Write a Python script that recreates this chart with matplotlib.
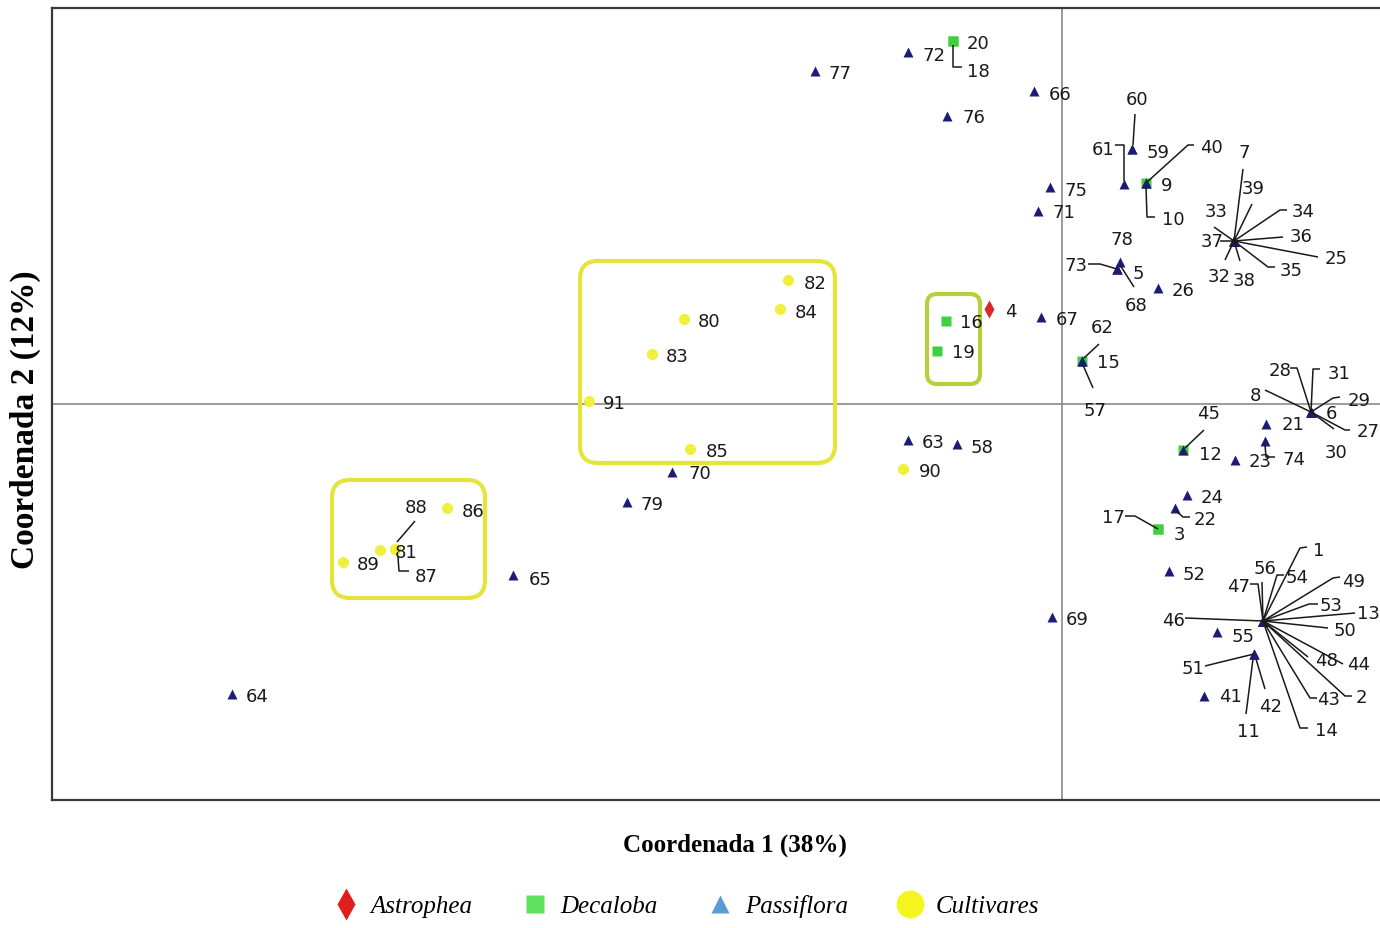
import matplotlib.pyplot as plt
from matplotlib.lines import Line2D
from matplotlib.patches import FancyBboxPatch

# --- coordinates of the accessions (PCoA axes 1 and 2) ---
astro_id = [4]
astro_x = [-0.073]
astro_y = [0.095]

deca_id = [3, 9, 12, 15, 16, 17, 18, 19, 20]
deca_x = [0.096, 0.084, 0.121, 0.020, -0.116, 0.096, -0.109, -0.125, -0.109]
deca_y = [-0.125, 0.221, -0.046, 0.043, 0.083, -0.125, 0.363, 0.053, 0.363]

passi_id = [1, 2, 5, 6, 7, 8, 10, 11, 13, 14,
            21, 22, 23, 24, 25, 26, 27, 28, 29, 30,
            31, 32, 33, 34, 35, 36, 37, 38, 39, 40,
            41, 42, 43, 44, 45, 46, 47, 48, 49, 50,
            51, 52, 53, 54, 55, 56, 57, 58, 59, 60,
            61, 62, 63, 64, 65, 66, 67, 68, 69, 70,
            71, 72, 73, 74, 75, 76, 77, 78, 79]
passi_x = [0.201, 0.201, 0.055, 0.249, 0.172, 0.249, 0.084, 0.192, 0.201, 0.201,
           0.204, 0.113, 0.173, 0.125, 0.172, 0.096, 0.249, 0.249, 0.249, 0.249,
           0.249, 0.172, 0.172, 0.172, 0.172, 0.172, 0.172, 0.172, 0.172, 0.084,
           0.142, 0.192, 0.201, 0.201, 0.121, 0.201, 0.201, 0.201, 0.201, 0.201,
           0.192, 0.107, 0.201, 0.201, 0.155, 0.201, 0.020, -0.105, 0.070, 0.070,
           0.062, 0.020, -0.154, -0.830, -0.549, -0.028, -0.021, 0.055, -0.010, -0.390,
           -0.024, -0.154, 0.055, 0.203, -0.012, -0.115, -0.247, 0.058, -0.435]
passi_y = [-0.217, -0.217, 0.135, -0.008, 0.163, -0.008, 0.221, -0.250, -0.217, -0.217,
           -0.020, -0.104, -0.056, -0.091, 0.163, 0.116, -0.008, -0.008, -0.008, -0.008,
           -0.008, 0.163, 0.163, 0.163, 0.163, 0.163, 0.163, 0.163, 0.163, 0.221,
           -0.292, -0.250, -0.217, -0.217, -0.046, -0.217, -0.217, -0.217, -0.217, -0.217,
           -0.250, -0.167, -0.217, -0.217, -0.228, -0.217, 0.043, -0.040, 0.255, 0.255,
           0.220, 0.043, -0.036, -0.290, -0.171, 0.313, 0.087, 0.135, -0.213, -0.068,
           0.193, 0.352, 0.135, -0.037, 0.217, 0.288, 0.333, 0.142, -0.098]

cult_id = [80, 81, 82, 83, 84, 85, 86, 87, 88, 89, 90, 91]
cult_x = [-0.378, -0.667, -0.274, -0.410, -0.282, -0.372, -0.615, -0.667, -0.682, -0.719, -0.159, -0.473]
cult_y = [0.085, -0.145, 0.124, 0.050, 0.095, -0.045, -0.104, -0.145, -0.146, -0.158, -0.065, 0.003]

legend_names = ["Astrophea", "Decaloba", "Passiflora", "Cultivares"]

# label offsets in pixels (right, down) from the marker; default is (14, 2)
label_off = {
    18: (14, 30), 60: (-6, -50), 59: (15, 3), 61: (-32, -35), 9: (15, 2),
    40: (54, -36), 10: (16, 36), 78: (-10, -23), 73: (-53, -4), 5: (16, 4),
    68: (8, 36), 7: (4, -89), 39: (8, -53), 33: (-29, -30), 34: (58, -30),
    36: (56, -5), 37: (-33, 0), 25: (91, 17), 35: (46, 29), 32: (-26, 35),
    38: (-1, 39), 4: (16, 2), 67: (15, 2), 16: (14, 1), 19: (15, 1),
    15: (15, 1), 62: (9, -34), 57: (2, 49), 28: (-42, -42), 31: (17, -39),
    8: (-61, -17), 29: (37, -12), 6: (15, 1), 27: (46, 19), 30: (14, 40),
    21: (16, 0), 74: (17, 18), 23: (14, 1), 12: (16, 4), 45: (14, -37),
    22: (19, 11), 3: (16, 5), 17: (-56, -12), 52: (14, 3), 1: (50, -71),
    56: (-9, -53), 54: (23, -44), 47: (-36, -35), 49: (79, -40), 53: (57, -16),
    13: (94, -8), 50: (71, 9), 46: (-101, -1), 48: (52, 39), 44: (84, 43),
    43: (54, 78), 2: (93, 76), 14: (52, 109), 55: (15, 4), 51: (-72, 14),
    11: (-17, 77), 42: (5, 52), 41: (15, 0), 58: (14, 3), 90: (16, 2),
    82: (16, 3), 84: (15, 3), 85: (16, 2), 70: (16, 1), 86: (15, 3),
    88: (25, -43), 81: (0, 3), 87: (20, 27), 65: (16, 4), 72: (14, 3),
    66: (15, 3), 76: (15, 1), 75: (15, 3), 71: (14, 1),
}

# leader lines, pixel offsets from the marker
leaders = {
    18: [(0, 4), (0, 26), (9, 26)],
    60: [(3, -35), (1, -4)],
    61: [(-9, -39), (0, -39), (0, -3)],
    40: [(0, 0), (42, -38), (48, -38)],
    10: [(0, 4), (1, 34), (9, 34)],
    73: [(-29, -5), (-17, -5), (0, 0)],
    68: [(17, 18), (3, -4)],
    7: [(9, -72), (0, 0)],
    39: [(18, -37), (0, 0)],
    33: [(-20, -14), (0, 0)],
    34: [(0, 0), (46, -31), (53, -31)],
    36: [(0, 0), (49, -4)],
    37: [(-14, 0), (0, 0)],
    25: [(0, 0), (84, 16)],
    35: [(0, 0), (34, 26), (41, 26)],
    32: [(-9, 19), (0, 0)],
    38: [(6, 20), (0, 0)],
    62: [(17, -17), (2, -3)],
    57: [(1, 4), (11, 27)],
    28: [(-21, -44), (-14, -44), (0, 0)],
    31: [(9, -43), (2, -43), (0, 0)],
    8: [(-46, -22), (0, 0)],
    29: [(0, 0), (22, -14), (29, -15)],
    27: [(0, 0), (34, 18), (39, 18)],
    30: [(0, 0), (23, 17)],
    74: [(0, 4), (1, 16), (10, 16)],
    45: [(21, -20), (2, -2)],
    22: [(1, 3), (8, 9), (15, 9)],
    17: [(-33, -13), (-23, -13), (0, 0)],
    1: [(0, 0), (37, -73), (44, -74)],
    56: [(-1, -39), (0, 0)],
    54: [(0, 0), (14, -46), (21, -46)],
    47: [(-13, -37), (-5, -37), (0, 0)],
    49: [(0, 0), (70, -43), (77, -44)],
    53: [(0, 0), (46, -17), (55, -17)],
    13: [(0, 0), (92, -8)],
    50: [(0, 0), (65, 7)],
    46: [(-78, -3), (0, 0)],
    48: [(0, 0), (45, 36)],
    44: [(0, 0), (80, 43)],
    43: [(0, 0), (47, 77), (54, 77)],
    2: [(0, 0), (82, 75), (89, 75)],
    14: [(0, 0), (37, 107), (45, 107)],
    51: [(-49, 12), (-37, 9), (0, 0)],
    11: [(-8, 60), (-1, 5)],
    42: [(11, 35), (2, 5)],
    88: [(35, -29), (17, -8)],
    87: [(3, 8), (4, 22), (14, 22)],
}

# groups of cultivars / Decaloba circled on the plot: x0, y0, x1, y1
boxes = [(-0.482, -0.059, -0.227, 0.143),
         (-0.730, -0.194, -0.577, -0.076),
         (-0.135, 0.020, -0.082, 0.110)]
box_colors = ["#e4e43a", "#e4e43a", "#b8cf3c"]

fig = plt.figure(figsize=(13.8, 9.29), dpi=100)
ax = fig.add_axes([52 / 1380, 1 - 801 / 929, 1 - 52 / 1380, (801 - 9) / 929])
ax.set_xlim(-1.010, 0.318)
ax.set_ylim(-0.396, 0.396)
ax.set_xticks([])
ax.set_yticks([])
ax.spines["right"].set_visible(False)
for s in ["left", "top", "bottom"]:
    ax.spines[s].set_linewidth(1.6)
    ax.spines[s].set_color("#3a3a3a")

ax.axhline(0, color="#808080", lw=1.1, zorder=1)
ax.axvline(0, color="#808080", lw=1.1, zorder=1)

for (x0, y0, x1, y1), c in zip(boxes, box_colors):
    r = 0.018 if (x1 - x0) > 0.1 else 0.010
    ax.add_patch(FancyBboxPatch((x0 + r, y0 + r), x1 - x0 - 2 * r, y1 - y0 - 2 * r,
                                boxstyle="round,pad=%g" % r, fill=False,
                                edgecolor=c, lw=3, zorder=2))

ax.plot(cult_x, cult_y, "o", color="#f0f03c", ms=8, mec="none", zorder=3)
ax.plot(deca_x, deca_y, "s", color="#3fcf3f", ms=6.5, mec="none", zorder=3)
ax.plot(astro_x, astro_y, "d", color="#d42a2a", ms=9, mec="none", zorder=3)
ax.plot(passi_x, passi_y, "^", color="#1c1c78", ms=7, mec="none", zorder=4)

to_disp = ax.transData
to_data = ax.transData.inverted()
lab_font = ["Liberation Sans Narrow", "DejaVu Sans"]

all_id = astro_id + deca_id + passi_id + cult_id
all_x = astro_x + deca_x + passi_x + cult_x
all_y = astro_y + deca_y + passi_y + cult_y
for i, x, y in zip(all_id, all_x, all_y):
    dx, dy = label_off.get(i, (14, 2))
    ax.annotate(str(i), (x, y), xytext=(dx, -dy), textcoords="offset pixels",
                ha="left", va="center", fontsize=13, family=lab_font,
                color="#1a1a1a", zorder=6)
    if i in leaders:
        px, py = to_disp.transform((x, y))
        pts = [to_data.transform((px + ox, py - oy)) for ox, oy in leaders[i]]
        ax.plot([p[0] for p in pts], [p[1] for p in pts], color="#1a1a1a",
                lw=1.1, zorder=5, solid_capstyle="butt")

fig.text(735 / 1380, 1 - 845 / 929, "Coordenada 1 (38%)", ha="center", va="center",
         fontsize=18, fontweight="bold", family="Liberation Serif")
fig.text(25 / 1380, 1 - 420 / 929, "Coordenada 2 (12%)", ha="center", va="center",
         rotation=90, fontsize=24, fontweight="bold", family="Liberation Serif")

handles = [
    Line2D([], [], ls="none", marker="d", ms=16, color="#e01e1e", mec="none"),
    Line2D([], [], ls="none", marker="s", ms=13, color="#5fe05f", mec="none"),
    Line2D([], [], ls="none", marker="^", ms=13, color="#5b9bd5", mec="none"),
    Line2D([], [], ls="none", marker="o", ms=20, color="#f5f51e", mec="none"),
]
fig.legend(handles, legend_names, loc="center", bbox_to_anchor=(686 / 1380, 1 - 907 / 929),
           ncol=4, frameon=False, handlelength=1.0, handletextpad=0.5, columnspacing=2.0,
           prop={"family": "Liberation Serif", "style": "italic", "size": 18})

fig.savefig("out.png", dpi=100)
